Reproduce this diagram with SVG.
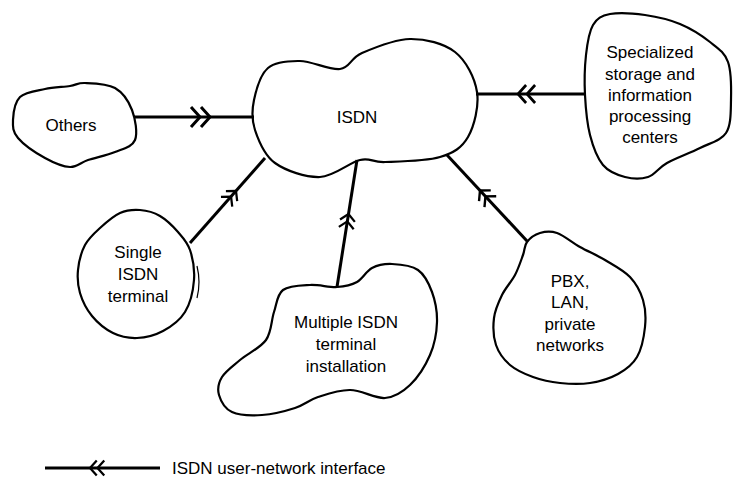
<svg xmlns="http://www.w3.org/2000/svg" xmlns:xlink="http://www.w3.org/1999/xlink" width="733" height="478" viewBox="0 0 733 478">
<style>
.blob{fill:none;stroke:#000;stroke-width:2.2;stroke-linejoin:round}
.conn{stroke:#000;stroke-width:3;fill:none}
.chev{stroke:#000;stroke-width:3;fill:none;stroke-linejoin:miter}
text{font-family:"Liberation Sans",Arial,sans-serif;font-size:17px;fill:#000;text-anchor:middle}
</style>
<defs>
<path id="chev" class="chev" d="M-9,-10 L0,0 L-9,10 M-19,-10 L-10,0 L-19,10"/>
</defs>
<rect width="733" height="478" fill="#fff"/>
<g id="connectors">
<line class="conn" x1="134" y1="117" x2="254" y2="117"/>
<use xlink:href="#chev" transform="translate(210,117)"/>
<line class="conn" x1="476" y1="94" x2="586" y2="94"/>
<use xlink:href="#chev" transform="translate(518,94) rotate(180) scale(0.9)"/>
<line class="conn" x1="190" y1="243" x2="265" y2="158"/>
<use xlink:href="#chev" transform="translate(236,191) rotate(-48.7) scale(0.75)"/>
<line class="conn" x1="337" y1="287" x2="357" y2="160"/>
<use xlink:href="#chev" transform="translate(348.5,214) rotate(-81) scale(0.75)"/>
<line class="conn" x1="447" y1="155" x2="527" y2="241"/>
<use xlink:href="#chev" transform="translate(480,190.5) rotate(-132.9) scale(0.8)"/>
</g>
<g id="isdn">
<path class="blob" d="M254,100 C256.2,89.7 260.3,74.5 268,68 C275.7,61.5 288,60.8 300,61 C312,61.2 329.7,70.3 340,69 C350.3,67.7 350.3,58 362,53 C373.7,48 394.5,39.2 410,39 C425.5,38.8 443.8,43.2 455,52 C466.2,60.8 474.8,77.8 477,92 C479.2,106.2 474.2,126.2 468,137 C461.8,147.8 453.8,152.8 440,157 C426.2,161.2 398.3,161.5 385,162 C371.7,162.5 370.8,157.5 360,160 C349.2,162.5 334.2,176.5 320,177 C305.8,177.5 285.8,170.8 275,163 C264.2,155.2 258.5,140.5 255,130 C251.5,119.5 251.8,110.3 254,100 Z"/>
<text x="357" y="123">ISDN</text>
</g>
<g id="others">
<path class="blob" d="M13,120 C13.3,113.2 14.7,102.2 20,97 C25.3,91.8 36.7,90.8 45,89 C53.3,87.2 63.3,87 70,86 C76.7,85 77.5,82.7 85,83 C92.5,83.3 107.2,83.5 115,88 C122.8,92.5 128.7,101.3 132,110 C135.3,118.7 137.8,133 135,140 C132.2,147 122.8,148.7 115,152 C107.2,155.3 95.5,157.5 88,160 C80.5,162.5 77.2,167.3 70,167 C62.8,166.7 53.7,162.8 45,158 C36.3,153.2 23.3,144.3 18,138 C12.7,131.7 12.7,126.8 13,120 Z"/>
<text x="71" y="131">Others</text>
</g>
<g id="specialized">
<path class="blob" d="M593,25 C597,18.2 601.3,15.7 610,14 C618.7,12.3 633.3,13.3 645,15 C656.7,16.7 669.2,19.5 680,24 C690.8,28.5 702,35.7 710,42 C718,48.3 724.5,52.3 728,62 C731.5,71.7 731.3,88.2 731,100 C730.7,111.8 731.2,125 726,133 C720.8,141 709.8,143 700,148 C690.2,153 675.7,158.2 667,163 C658.3,167.8 655,174.7 648,177 C641,179.3 632.5,179 625,177 C617.5,175 608.8,172 603,165 C597.2,158 593,146.7 590,135 C587,123.3 585.7,108.3 585,95 C584.3,81.7 584.7,66.7 586,55 C587.3,43.3 589,31.8 593,25 Z"/>
<text x="650" y="58">Specialized</text>
<text x="650" y="80">storage and</text>
<text x="650" y="101">information</text>
<text x="650" y="122">processing</text>
<text x="650" y="143">centers</text>
</g>
<g id="single">
<path class="blob" d="M78,270 C78.8,262 81.3,252 85,245 C88.7,238 94.2,233.3 100,228 C105.8,222.7 113.3,216 120,213 C126.7,210 133.3,209.5 140,210 C146.7,210.5 153.7,212.3 160,216 C166.3,219.7 173,226.3 178,232 C183,237.7 187.3,242 190,250 C192.7,258 194.8,269.7 194,280 C193.2,290.3 190.2,303.5 185,312 C179.8,320.5 171,326.7 163,331 C155,335.3 145.3,337.7 137,338 C128.7,338.3 120.5,336.7 113,333 C105.5,329.3 97.5,322.7 92,316 C86.5,309.3 82.3,300.7 80,293 C77.7,285.3 77.2,278 78,270 Z"/>
<path d="M197,266 C199.5,276 199.5,288 197,298" fill="none" stroke="#000" stroke-width="1.2"/>
<text x="138" y="258">Single</text>
<text x="138" y="280">ISDN</text>
<text x="138" y="302">terminal</text>
</g>
<g id="multiple">
<path class="blob" d="M283,290 C289,285.5 301,285.5 310,285 C319,284.5 329.2,287.5 337,287 C344.8,286.5 351.2,285.2 357,282 C362.8,278.8 366.2,271 372,268 C377.8,265 384.3,263.7 392,264 C399.7,264.3 411.3,265.3 418,270 C424.7,274.7 428.8,283.3 432,292 C435.2,300.7 437.3,311.5 437,322 C436.7,332.5 434.5,344.5 430,355 C425.5,365.5 417.5,377.8 410,385 C402.5,392.2 395,397.2 385,398 C375,398.8 361.2,389.8 350,390 C338.8,389.8 327.2,394 318,397 C308.8,400 304.3,405 295,408 C285.7,411 272.5,414.3 262,415 C251.5,415.7 239.2,415.3 232,412 C224.8,408.7 220.7,400.8 219,395 C217.3,389.2 218.5,382.8 222,377 C225.5,371.2 232.7,366.2 240,360 C247.3,353.8 260.3,348 266,340 C271.7,332 271.2,320.3 274,312 C276.8,303.7 277,294.5 283,290 Z"/>
<text x="346" y="328">Multiple ISDN</text>
<text x="346" y="350">terminal</text>
<text x="346" y="372">installation</text>
</g>
<g id="pbx">
<path class="blob" d="M527,242 C529.8,238.3 535,234.5 540,233 C545,231.5 550.3,230.7 557,233 C563.7,235.3 572,242.5 580,247 C588,251.5 596.7,255 605,260 C613.3,265 623.7,270.3 630,277 C636.3,283.7 640.5,291.7 643,300 C645.5,308.3 646,317.5 645,327 C644,336.5 641.5,349.2 637,357 C632.5,364.8 625.8,369.7 618,374 C610.2,378.3 599.7,381.5 590,383 C580.3,384.5 569.5,384 560,383 C550.5,382 541.3,380 533,377 C524.7,374 516.2,370.3 510,365 C503.8,359.7 498.7,352.8 496,345 C493.3,337.2 493,326.3 494,318 C495,309.7 498.5,302.2 502,295 C505.5,287.8 511.5,281.7 515,275 C518.5,268.3 521,260.5 523,255 C525,249.5 524.2,245.7 527,242 Z"/>
<text x="570" y="287">PBX,</text>
<text x="570" y="308">LAN,</text>
<text x="570" y="330">private</text>
<text x="570" y="351">networks</text>
</g>
<g id="legend">
<line class="conn" x1="45" y1="468" x2="160" y2="468"/>
<use xlink:href="#chev" transform="translate(90,468) rotate(180) scale(0.75)"/>
<text x="172" y="474" style="text-anchor:start">ISDN user-network interface</text>
</g>
</svg>
